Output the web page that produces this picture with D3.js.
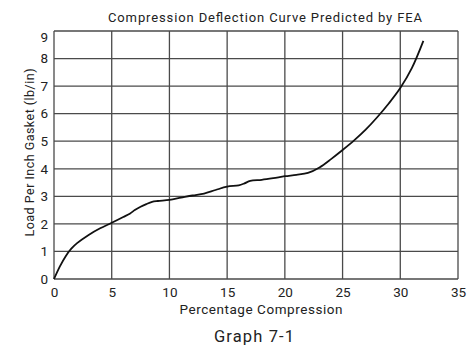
<!DOCTYPE html>
<html><head><meta charset="utf-8">
<script src="https://cdn.jsdelivr.net/npm/d3@7"></script>
<style>body{margin:0;background:#fff}svg{display:block}text{font-family:Roboto,"DejaVu Sans",sans-serif;fill:#222}</style>
</head><body><svg id="c" width="475" height="348"></svg>
<script>
const compression = [0, 0.5, 1, 1.5, 2, 3, 4, 5, 6, 6.6, 7, 7.5, 8, 8.5, 9, 10, 11, 12, 13, 14, 15, 16, 16.5, 17, 18, 19, 20, 21, 22, 23, 24, 25, 26, 27, 28, 29, 30, 31, 32];
const load = [0, 0.45, 0.82, 1.1, 1.3, 1.6, 1.84, 2.04, 2.25, 2.38, 2.5, 2.62, 2.72, 2.8, 2.83, 2.87, 2.95, 3.03, 3.1, 3.23, 3.35, 3.4, 3.47, 3.56, 3.6, 3.66, 3.73, 3.78, 3.85, 4.05, 4.35, 4.68, 5.03, 5.42, 5.87, 6.37, 6.93, 7.65, 8.64];
const xTicks = [0, 5, 10, 15, 20, 25, 30, 35];
const yTicks = [0, 1, 2, 3, 4, 5, 6, 7, 8, 9];
const title = "Compression Deflection Curve Predicted by FEA";
const xLabel = "Percentage Compression";
const yLabel = "Load Per Inch Gasket (lb/in)";
const caption = "Graph 7-1";

const svg = d3.select("#c");
const L = 54, R = 458, T = 31, B = 279;
const x = d3.scaleLinear().domain([0, 35]).range([L, R]);
const y = d3.scaleLinear().domain([0, 9]).range([B, T]);
const grid = "#4a4a4a";

const g = svg.append("g");
g.selectAll("line.v").data(xTicks).join("line")
  .attr("x1", d => x(d)).attr("x2", d => x(d)).attr("y1", T).attr("y2", B)
  .attr("stroke", grid).attr("stroke-width", 1.3);
g.selectAll("line.h").data(yTicks).join("line")
  .attr("y1", d => y(d)).attr("y2", d => y(d)).attr("x1", L).attr("x2", R)
  .attr("stroke", grid).attr("stroke-width", 1.3);

const xa = svg.append("g").attr("transform", `translate(0,${B})`)
  .call(d3.axisBottom(x).tickValues(xTicks).tickSize(0).tickPadding(8));
xa.select(".domain").remove();
xa.selectAll("text").attr("font-size", 13.5).style("font-family", "Roboto, sans-serif").attr("fill", "#333");
const ya = svg.append("g").attr("transform", `translate(${L},0)`)
  .call(d3.axisLeft(y).tickValues(yTicks).tickSize(0).tickPadding(6));
ya.select(".domain").remove();
ya.selectAll("text").attr("font-size", 13.5).style("font-family", "Roboto, sans-serif").attr("fill", "#333")
  .attr("dy", d => d === 9 ? "0.75em" : "0.32em");

const line = d3.line().x((d, i) => x(compression[i])).y(d => y(d)).curve(d3.curveCatmullRom.alpha(0.5));
svg.append("path").attr("d", line(load)).attr("fill", "none").attr("stroke", "#111").attr("stroke-width", 1.8);

svg.append("text").attr("x", 265).attr("y", 22).attr("text-anchor", "middle").attr("font-size", 13)
  .attr("textLength", 314).attr("lengthAdjust", "spacing").attr("fill", "#2a2a2a").text(title);
svg.append("text").attr("x", 261).attr("y", 314).attr("text-anchor", "middle").attr("font-size", 13.5)
  .attr("textLength", 163).attr("lengthAdjust", "spacing").attr("fill", "#2a2a2a").text(xLabel);
svg.append("text").attr("transform", `translate(34,152.5) rotate(-90)`).attr("text-anchor", "middle").attr("font-size", 12.5)
  .attr("textLength", 168).attr("lengthAdjust", "spacing").attr("fill", "#2a2a2a").text(yLabel);
svg.append("text").attr("x", 254).attr("y", 342).attr("text-anchor", "middle").attr("font-size", 16.5)
  .attr("textLength", 80).attr("lengthAdjust", "spacing").attr("fill", "#222").text(caption);
</script></body></html>
